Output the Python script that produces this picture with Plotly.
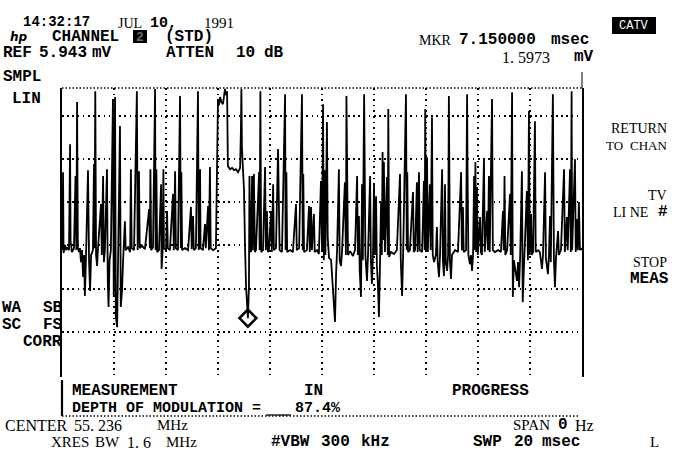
import plotly.graph_objects as go

W, H = 673, 457

# Zero-span sweep of the video carrier: time across the 20 ms sweep (ms)
sweep_ms = [
    0.02, 0.04, 0.06, 0.12, 0.15, 0.19, 0.27, 0.31, 0.33, 0.38,
    0.46, 0.52, 0.55, 0.58, 0.61, 0.65, 0.69, 0.73, 0.77, 0.81,
    0.85, 0.88, 0.92, 1.00, 1.04, 1.08, 1.12, 1.19, 1.23, 1.25,
    1.28, 1.31, 1.35, 1.38, 1.50, 1.53, 1.58, 1.61, 1.65, 1.73,
    1.76, 1.79, 1.83, 1.88, 1.96, 1.99, 2.04, 2.07, 2.12, 2.15,
    2.23, 2.26, 2.31, 2.35, 2.42, 2.45, 2.54, 2.62, 2.65, 2.68,
    2.77, 2.88, 2.91, 2.96, 2.99, 3.08, 3.19, 3.35, 3.38, 3.40,
    3.43, 3.50, 3.58, 3.60, 3.63, 3.66, 3.73, 3.81, 3.83, 3.87,
    3.90, 3.92, 4.00, 4.04, 4.07, 4.15, 4.27, 4.30, 4.35, 4.38,
    4.46, 4.54, 4.57, 4.59, 4.62, 4.73, 4.85, 4.96, 4.99, 5.04,
    5.07, 5.15, 5.23, 5.26, 5.31, 5.33, 5.42, 5.50, 5.53, 5.62,
    5.65, 5.69, 5.72, 5.81, 5.92, 5.96, 6.00, 6.04, 6.08, 6.13,
    6.19, 6.27, 6.31, 6.35, 6.38, 6.46, 6.54, 6.62, 6.69, 6.77,
    6.85, 6.88, 6.90, 6.92, 6.96, 7.00, 7.04, 7.08, 7.15, 7.19,
    7.21, 7.24, 7.27, 7.31, 7.34, 7.38, 7.42, 7.46, 7.58, 7.60,
    7.63, 7.66, 7.73, 7.81, 7.84, 7.88, 7.92, 7.96, 8.04, 8.07,
    8.12, 8.15, 8.23, 8.31, 8.34, 8.37, 8.46, 8.58, 8.60, 8.63,
    8.66, 8.77, 8.88, 9.00, 9.03, 9.12, 9.23, 9.26, 9.28, 9.31,
    9.42, 9.50, 9.53, 9.58, 9.61, 9.69, 9.72, 9.81, 9.88, 9.96,
    10.00, 10.04, 10.07, 10.10, 10.13, 10.19, 10.22, 10.27, 10.35, 10.42,
    10.50, 10.54, 10.58, 10.65, 10.68, 10.73, 10.77, 10.88, 10.92, 10.94,
    10.97, 11.00, 11.08, 11.19, 11.27, 11.35, 11.38, 11.42, 11.45, 11.50,
    11.54, 11.57, 11.62, 11.64, 11.67, 11.73, 11.77, 11.85, 11.88, 11.92,
    11.96, 12.00, 12.03, 12.08, 12.11, 12.15, 12.19, 12.23, 12.27, 12.30,
    12.33, 12.36, 12.38, 12.42, 12.50, 12.53, 12.55, 12.58, 12.65, 12.77,
    12.88, 13.00, 13.03, 13.08, 13.12, 13.23, 13.26, 13.28, 13.31, 13.38,
    13.50, 13.53, 13.58, 13.65, 13.68, 13.73, 13.76, 13.85, 13.92, 13.95,
    13.97, 14.00, 14.04, 14.07, 14.15, 14.18, 14.23, 14.26, 14.31, 14.38,
    14.42, 14.45, 14.50, 14.54, 14.62, 14.65, 14.69, 14.73, 14.76, 14.81,
    14.85, 14.88, 14.92, 14.96, 15.00, 15.12, 15.23, 15.35, 15.38, 15.42,
    15.45, 15.54, 15.58, 15.60, 15.63, 15.69, 15.73, 15.77, 15.81, 15.85,
    15.88, 15.90, 15.93, 15.96, 15.99, 16.08, 16.11, 16.15, 16.23, 16.26,
    16.35, 16.38, 16.42, 16.45, 16.54, 16.57, 16.65, 16.77, 16.88, 16.96,
    16.99, 17.02, 17.05, 17.12, 17.23, 17.26, 17.31, 17.34, 17.38, 17.50,
    17.54, 17.58, 17.62, 17.69, 17.72, 17.77, 17.88, 17.92, 17.96, 17.99,
    18.04, 18.07, 18.12, 18.19, 18.22, 18.31, 18.38, 18.46, 18.50, 18.58,
    18.61, 18.69, 18.73, 18.77, 18.80, 18.88, 18.92, 18.96, 19.00, 19.08,
    19.11, 19.19, 19.31, 19.34, 19.42, 19.45, 19.54, 19.57, 19.60, 19.62,
    19.73, 19.76, 19.81, 19.84, 19.88, 19.92, 19.96, 20.00,
]

# Detected carrier amplitude at each sweep point (mV, linear scale)
level_mv = [
    3.69, 6.09, 3.60, 3.85, 3.69, 3.78, 3.69, 6.95, 3.97, 3.63,
    3.75, 5.97, 3.69, 8.25, 3.78, 3.63, 3.75, 3.32, 3.69, 2.86,
    3.54, 2.28, 3.38, 6.15, 3.38, 2.43, 3.54, 3.69, 6.34, 3.75,
    8.58, 3.54, 3.20, 3.69, 5.11, 3.54, 5.97, 3.32, 3.69, 6.18,
    2.77, 1.94, 3.38, 3.69, 8.34, 2.25, 8.40, 1.63, 1.32, 3.08,
    7.51, 1.94, 2.46, 3.38, 4.58, 3.69, 3.78, 3.63, 6.18, 3.75,
    3.69, 8.58, 3.69, 6.12, 3.75, 3.82, 3.72, 4.95, 3.75, 6.18,
    3.69, 3.78, 8.65, 3.69, 6.18, 3.63, 3.69, 5.72, 3.11, 3.69,
    6.18, 3.75, 3.69, 4.89, 3.75, 3.69, 5.42, 3.69, 6.12, 3.75,
    3.69, 8.43, 3.75, 6.09, 3.69, 3.75, 3.69, 5.02, 3.72, 4.74,
    3.69, 3.75, 8.58, 3.69, 6.18, 3.75, 3.69, 4.49, 3.75, 5.05,
    3.69, 6.25, 3.75, 3.69, 3.75, 6.09, 8.34, 8.15, 8.40, 8.25,
    8.18, 8.65, 8.46, 8.58, 6.28, 6.18, 6.22, 6.15, 6.18, 6.09,
    6.22, 7.35, 8.65, 6.86, 6.15, 5.54, 3.78, 2.55, 1.5973, 2.55,
    5.97, 3.69, 3.63, 5.97, 3.69, 6.03, 3.63, 3.69, 6.09, 3.69,
    8.58, 3.63, 3.69, 6.25, 3.69, 4.89, 3.63, 3.69, 4.89, 3.63,
    5.72, 3.69, 3.75, 6.80, 5.20, 3.69, 3.63, 8.49, 3.69, 6.09,
    3.63, 3.69, 3.63, 5.11, 3.69, 3.75, 8.49, 3.69, 6.03, 3.63,
    3.69, 5.05, 3.63, 5.02, 3.69, 4.80, 3.63, 3.69, 3.57, 5.82,
    3.69, 8.18, 3.38, 6.15, 3.54, 7.63, 4.09, 3.45, 3.38, 2.55,
    1.48, 2.92, 3.69, 6.18, 3.38, 3.20, 3.63, 5.78, 3.54, 8.43,
    6.09, 3.54, 3.66, 3.51, 3.69, 5.97, 3.54, 4.74, 3.08, 2.25,
    5.72, 3.38, 8.49, 5.66, 3.54, 2.74, 3.54, 5.97, 3.38, 2.65,
    3.54, 5.72, 3.54, 5.35, 3.23, 2.65, 1.63, 3.23, 5.17, 3.54,
    6.71, 4.00, 6.40, 3.63, 5.94, 3.54, 8.03, 3.48, 3.63, 3.57,
    3.69, 6.03, 3.38, 2.28, 3.54, 8.49, 3.69, 6.09, 3.63, 3.69,
    5.48, 3.63, 3.69, 5.78, 3.63, 6.09, 3.69, 3.63, 5.82, 3.69,
    8.03, 3.69, 6.55, 3.63, 5.72, 3.69, 7.78, 3.54, 3.32, 3.54,
    4.40, 3.32, 2.86, 3.54, 6.18, 3.38, 2.89, 5.72, 3.32, 3.05,
    3.54, 8.43, 3.38, 2.80, 3.54, 3.69, 3.63, 6.09, 3.69, 5.02,
    3.63, 3.69, 8.49, 5.97, 3.54, 3.26, 3.54, 3.05, 3.54, 5.97,
    3.69, 6.40, 3.63, 5.63, 3.54, 4.71, 3.63, 3.54, 6.49, 3.63,
    4.89, 3.69, 5.97, 3.63, 8.34, 3.69, 3.63, 3.69, 3.63, 4.89,
    3.69, 5.97, 3.54, 3.69, 5.42, 3.54, 8.55, 2.25, 3.38, 2.74,
    3.32, 2.55, 3.45, 6.12, 2.09, 3.23, 5.51, 3.38, 7.97, 3.54,
    4.80, 3.54, 3.63, 7.66, 3.63, 3.69, 3.63, 3.11, 3.54, 6.09,
    3.45, 2.95, 3.54, 4.74, 3.32, 8.49, 3.38, 2.55, 3.45, 4.28,
    3.54, 3.69, 6.18, 3.63, 4.71, 3.69, 6.18, 3.63, 8.58, 3.69,
    6.49, 3.63, 4.65, 3.69, 5.17, 3.69, 3.75, 3.69,
]

# Marker readout
marker_ms = 7.150000
marker_mv = 1.5973

# Graticule: 10 time divisions of 2 ms, amplitude divisions in mV
time_grid_ms = [2, 4, 6, 8, 10, 12, 14, 16, 18]
amp_grid_mv = [1.170, 2.503, 3.835, 5.168, 6.500, 7.833]
time_range_ms = [0, 20]
amp_range_mv = [-0.2, 8.68]

MONO = "Liberation Mono"
SERIF = "Liberation Serif"


def fx(px):
    return px / W


def fy(py):
    return 1 - py / H


annotations = []


def txt(s, x, y, family=MONO, size=16, bold=True, anchor="left", color="black"):
    annotations.append(dict(
        text=f"<b>{s}</b>" if bold else s,
        x=fx(x), y=fy(y), xref="paper", yref="paper",
        xanchor=anchor, yanchor="middle", showarrow=False,
        font=dict(family=family, size=size, color=color),
    ))


fig = go.Figure()
fig.add_trace(go.Scatter(
    x=sweep_ms, y=level_mv, mode="lines",
    line=dict(color="black", width=1.8),
    hoverinfo="skip", showlegend=False,
))
fig.add_trace(go.Scatter(
    x=[marker_ms], y=[marker_mv], mode="markers",
    marker=dict(symbol="diamond-open", size=13, color="black",
                line=dict(width=2.6, color="black")),
    hoverinfo="skip", showlegend=False,
))

# Header
txt("14:32:17", 21, 22, size=14)
txt("JUL", 116, 24, family=SERIF, size=14, bold=False)
txt("10,", 148, 23, size=15)
txt("1991", 202, 23, family=SERIF, size=15, bold=False)
txt("<i>hp</i>", 8, 37, family="DejaVu Sans", size=12)
txt("CHANNEL", 50, 37)
txt("2", 140, 37, size=13, anchor="center", color="#6a6a6a")
txt("(STD)", 163, 37)
txt("REF", 1, 53)
txt("5.943", 37, 53)
txt("mV", 90, 53)
txt("ATTEN", 164, 53)
txt("10", 234, 53)
txt("dB", 262, 53)
txt("MKR", 417, 40, family=SERIF, size=14, bold=False)
txt("7.150000", 457, 40)
txt("msec", 549, 40)
txt("1. 5973", 500, 57, family=SERIF, size=16, bold=False)
txt("mV", 572, 57)
txt("CATV", 634, 26, size=12, anchor="center", color="white", bold=False)

# Left status column
txt("SMPL", 1, 77)
txt("LIN", 10, 99)
txt("WA", 0, 308)
txt("SB", 41, 308)
txt("SC", 0, 325)
txt("FS", 41, 325)
txt("CORR", 21, 342)

# Softkey menu
txt("RETURN", 669, 128, family=SERIF, size=14, bold=False, anchor="right")
txt("TO", 604, 145, family=SERIF, size=13, bold=False)
txt("CHAN", 669, 145, family=SERIF, size=13, bold=False, anchor="right")
txt("TV", 669, 195, family=SERIF, size=14, bold=False, anchor="right")
txt("LI NE", 611, 212, family=SERIF, size=14, bold=False)
txt("#", 670, 212, anchor="right")
txt("STOP", 669, 262, family=SERIF, size=14, bold=False, anchor="right")
txt("MEAS", 671, 279, anchor="right")

# Measurement message box
txt("MEASUREMENT", 70, 391)
txt("IN", 302, 391)
txt("PROGRESS", 450, 391)
txt("DEPTH OF MODULATION =", 70, 408, size=15)
txt("87.4%", 293, 408, size=15)

# Footer
txt("CENTER", 3, 425, family=SERIF, size=16, bold=False)
txt("55. 236", 72, 425, family=SERIF, size=16, bold=False)
txt("MHz", 155, 425, family=SERIF, size=15, bold=False)
txt("SPAN", 511, 425, family=SERIF, size=15, bold=False)
txt("0", 556, 425)
txt("Hz", 573, 425, family=SERIF, size=16, bold=False)
txt("XRES", 49, 442, family=SERIF, size=15, bold=False)
txt("BW", 93, 442, family=SERIF, size=15, bold=False)
txt("1. 6", 125, 442, family=SERIF, size=16, bold=False)
txt("MHz", 164, 442, family=SERIF, size=15, bold=False)
txt("#VBW", 269, 442)
txt("300", 319, 442)
txt("kHz", 359, 442)
txt("SWP", 471, 442)
txt("20", 512, 442)
txt("msec", 540, 442)
txt("L", 648, 442, family=SERIF, size=15, bold=False)

shapes = [
    # top edge of the graticule (dotted)
    dict(type="line", xref="paper", yref="paper",
         x0=fx(62), x1=fx(582), y0=fy(88), y1=fy(88),
         line=dict(color="black", width=1.5, dash="1.5px,2px")),
    # right edge stub above the graticule
    dict(type="line", xref="paper", yref="paper",
         x0=fx(582), x1=fx(582), y0=fy(72), y1=fy(88),
         line=dict(color="black", width=1)),
    # channel number highlight
    dict(type="rect", xref="paper", yref="paper",
         x0=fx(133), x1=fx(147), y0=fy(43), y1=fy(30),
         fillcolor="black", line=dict(width=0), layer="below"),
    # CATV mode indicator
    dict(type="rect", xref="paper", yref="paper",
         x0=fx(612), x1=fx(656), y0=fy(34), y1=fy(17),
         fillcolor="black", line=dict(width=0), layer="below"),
    # message box bracket
    dict(type="line", xref="paper", yref="paper",
         x0=fx(62), x1=fx(62), y0=fy(380), y1=fy(416),
         line=dict(color="black", width=2.2)),
    # message box base (dotted)
    dict(type="line", xref="paper", yref="paper",
         x0=fx(62), x1=fx(580), y0=fy(416), y1=fy(416),
         line=dict(color="black", width=1.3, dash="1.5px,2px")),
    # value field underline
    dict(type="line", xref="paper", yref="paper",
         x0=fx(266), x1=fx(291), y0=fy(415), y1=fy(415),
         line=dict(color="black", width=1.3)),
]

fig.update_layout(
    width=W, height=H,
    margin=dict(l=0, r=0, t=0, b=0),
    paper_bgcolor="white", plot_bgcolor="white",
    showlegend=False,
    annotations=annotations,
    shapes=shapes,
    xaxis=dict(
        domain=[fx(62), fx(582)], range=time_range_ms,
        tickvals=time_grid_ms, showticklabels=False, ticks="",
        showgrid=True, gridcolor="black", gridwidth=1.5, griddash="1.6px,4px",
        zeroline=False, showline=False, fixedrange=True,
    ),
    yaxis=dict(
        domain=[fy(376.5), fy(88)], range=amp_range_mv,
        tickvals=amp_grid_mv, showticklabels=False, ticks="",
        showgrid=True, gridcolor="black", gridwidth=1.5, griddash="1.6px,3.6px",
        zeroline=False, showline=True, mirror=True,
        linecolor="black", linewidth=2, fixedrange=True,
    ),
)

fig.write_html("out.html")
